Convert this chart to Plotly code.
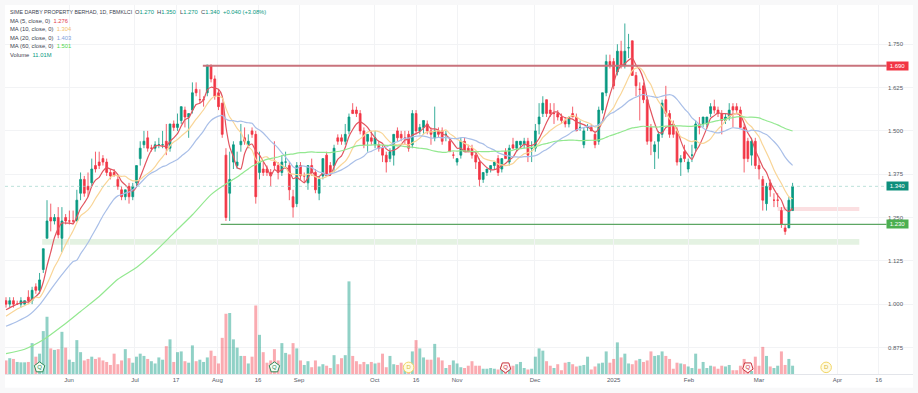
import plotly.graph_objects as go

opens = [
1.01,1.00,1.01,1.00,1.00,1.00,1.02,1.01,1.05,1.04,
1.10,1.19,1.25,1.24,1.25,1.19,1.25,1.24,1.24,1.24,
1.32,1.36,1.34,1.35,1.40,1.41,1.42,1.41,1.38,1.38,
1.36,1.33,1.31,1.34,1.31,1.35,1.42,1.46,1.48,1.45,
1.45,1.46,1.46,1.47,1.45,1.52,1.51,1.53,1.56,1.54,
1.56,1.62,1.59,1.59,1.61,1.69,1.65,1.61,1.58,1.43,
1.32,1.41,1.40,1.46,1.48,1.46,1.50,1.49,1.38,1.39,
1.39,1.38,1.41,1.40,1.38,1.41,1.40,1.31,1.29,1.40,
1.37,1.35,1.40,1.38,1.32,1.37,1.43,1.40,1.40,1.48,
1.48,1.47,1.50,1.56,1.56,1.55,1.50,1.47,1.48,1.46,
1.46,1.45,1.43,1.42,1.43,1.50,1.49,1.48,1.49,1.46,
1.55,1.50,1.51,1.52,1.50,1.48,1.50,1.50,1.49,1.47,
1.43,1.41,1.43,1.47,1.45,1.45,1.43,1.41,1.36,1.38,
1.39,1.40,1.42,1.39,1.44,1.41,1.46,1.45,1.46,1.46,
1.47,1.45,1.45,1.52,1.55,1.59,1.56,1.55,1.55,1.54,
1.53,1.52,1.55,1.54,1.51,1.46,1.51,1.51,1.49,1.47,
1.56,1.61,1.70,1.70,1.67,1.73,1.69,1.74,1.76,1.66,
1.62,1.63,1.59,1.51,1.44,1.47,1.49,1.59,1.55,1.52,
1.50,1.41,1.44,1.39,1.43,1.45,1.52,1.52,1.52,1.55,
1.57,1.56,1.55,1.53,1.54,1.57,1.57,1.56,1.51,1.47,
1.43,1.47,1.40,1.36,1.29,1.35,1.30,1.30,1.27,1.22,
1.22,1.27]
highs = [
1.02,1.02,1.02,1.01,1.02,1.01,1.04,1.05,1.06,1.09,
1.16,1.30,1.29,1.26,1.28,1.28,1.26,1.27,1.27,1.33,
1.38,1.37,1.38,1.42,1.44,1.44,1.43,1.42,1.39,1.39,
1.37,1.34,1.33,1.35,1.35,1.40,1.47,1.50,1.50,1.46,
1.47,1.48,1.50,1.52,1.52,1.53,1.55,1.57,1.57,1.55,
1.64,1.64,1.62,1.60,1.69,1.69,1.66,1.62,1.58,1.45,
1.44,1.47,1.44,1.52,1.51,1.49,1.51,1.50,1.44,1.41,
1.40,1.39,1.47,1.41,1.43,1.44,1.41,1.33,1.41,1.41,
1.38,1.40,1.42,1.39,1.37,1.42,1.44,1.41,1.46,1.49,
1.49,1.52,1.55,1.58,1.57,1.56,1.51,1.49,1.50,1.50,
1.47,1.46,1.44,1.45,1.49,1.51,1.50,1.50,1.50,1.56,
1.56,1.52,1.53,1.53,1.51,1.57,1.51,1.51,1.50,1.48,
1.44,1.42,1.48,1.48,1.46,1.46,1.44,1.42,1.38,1.39,
1.40,1.41,1.43,1.42,1.45,1.46,1.48,1.47,1.47,1.48,
1.48,1.47,1.52,1.58,1.60,1.59,1.58,1.58,1.56,1.55,
1.54,1.54,1.57,1.55,1.53,1.51,1.52,1.52,1.50,1.57,
1.61,1.72,1.72,1.71,1.75,1.76,1.81,1.78,1.76,1.67,
1.64,1.64,1.60,1.52,1.47,1.50,1.59,1.63,1.56,1.53,
1.51,1.43,1.46,1.42,1.46,1.53,1.54,1.54,1.54,1.58,
1.59,1.57,1.56,1.55,1.58,1.58,1.58,1.57,1.52,1.48,
1.48,1.48,1.42,1.37,1.35,1.36,1.32,1.32,1.28,1.23,
1.31,1.35]
lows = [
.99,.99,.99,1.00,.99,1.00,1.00,1.00,1.03,1.03,
1.09,1.19,1.21,1.23,1.19,1.15,1.23,1.23,1.23,1.24,
1.30,1.31,1.31,1.34,1.38,1.39,1.40,1.37,1.36,1.37,
1.33,1.30,1.30,1.29,1.30,1.34,1.40,1.45,1.44,1.44,
1.44,1.45,1.45,1.43,1.44,1.50,1.50,1.52,1.51,1.48,
1.55,1.60,1.58,1.57,1.60,1.64,1.59,1.56,1.48,1.24,
1.24,1.39,1.39,1.44,1.46,1.45,1.48,1.29,1.36,1.37,
1.37,1.34,1.39,1.36,1.37,1.39,1.30,1.25,1.28,1.36,
1.35,1.33,1.37,1.32,1.30,1.36,1.37,1.37,1.38,1.46,
1.46,1.46,1.49,1.55,1.54,1.49,1.45,1.44,1.46,1.45,
1.44,1.41,1.38,1.41,1.40,1.47,1.47,1.46,1.44,1.45,
1.49,1.49,1.49,1.49,1.46,1.47,1.48,1.46,1.47,1.44,
1.42,1.40,1.42,1.44,1.44,1.42,1.39,1.34,1.35,1.37,
1.38,1.39,1.37,1.38,1.42,1.40,1.45,1.44,1.45,1.45,
1.41,1.41,1.44,1.49,1.54,1.54,1.54,1.52,1.53,1.52,
1.51,1.51,1.54,1.50,1.50,1.45,1.50,1.50,1.45,1.46,
1.55,1.60,1.68,1.62,1.66,1.68,1.68,1.71,1.66,1.60,
1.53,1.58,1.46,1.43,1.39,1.42,1.48,1.54,1.48,1.48,
1.40,1.37,1.41,1.38,1.41,1.44,1.49,1.51,1.51,1.54,
1.55,1.54,1.49,1.52,1.53,1.51,1.55,1.51,1.38,1.41,
1.40,1.39,1.36,1.27,1.27,1.31,1.28,1.28,1.22,1.20,
1.22,1.27]
closes = [
1.00,1.01,1.00,1.00,1.01,1.01,1.01,1.04,1.04,1.07,
1.16,1.24,1.24,1.25,1.20,1.24,1.24,1.24,1.24,1.30,
1.36,1.32,1.33,1.39,1.39,1.40,1.41,1.38,1.37,1.37,
1.34,1.31,1.33,1.31,1.34,1.40,1.45,1.47,1.45,1.45,
1.46,1.46,1.46,1.45,1.52,1.51,1.52,1.57,1.54,1.55,
1.61,1.61,1.59,1.59,1.69,1.65,1.60,1.57,1.49,1.25,
1.36,1.46,1.41,1.47,1.47,1.47,1.49,1.31,1.41,1.38,
1.38,1.37,1.40,1.38,1.41,1.41,1.33,1.28,1.40,1.37,
1.37,1.40,1.38,1.33,1.36,1.42,1.37,1.38,1.45,1.47,
1.47,1.49,1.54,1.55,1.55,1.50,1.46,1.49,1.47,1.48,
1.45,1.43,1.41,1.44,1.49,1.48,1.48,1.48,1.45,1.55,
1.50,1.51,1.53,1.50,1.49,1.50,1.49,1.47,1.49,1.44,
1.43,1.42,1.47,1.44,1.44,1.43,1.41,1.36,1.38,1.39,
1.40,1.41,1.38,1.42,1.42,1.45,1.45,1.47,1.47,1.47,
1.43,1.45,1.50,1.54,1.58,1.55,1.55,1.55,1.54,1.53,
1.52,1.54,1.54,1.50,1.51,1.50,1.51,1.50,1.46,1.56,
1.61,1.70,1.69,1.63,1.73,1.69,1.73,1.74,1.66,1.63,
1.62,1.59,1.47,1.47,1.46,1.49,1.58,1.55,1.49,1.49,
1.41,1.42,1.42,1.41,1.43,1.52,1.51,1.54,1.54,1.57,
1.56,1.55,1.53,1.54,1.56,1.56,1.56,1.51,1.42,1.42,
1.47,1.40,1.39,1.30,1.34,1.33,1.30,1.30,1.23,1.21,
1.30,1.34]
volumes_m = [
18,21,20,16,15.5,15.5,16,41,23,27,
57,76,34,32,33,56,35,19,16,45,
29,18,20,23,20,22,18,16,12,27,
13,18,33,21,15,23,27,24,20,17,
14,22,19,37,46,16,29,30,17,15,
38,17,19,16,22,31,24,14,48,80,
81,46,35,24,24,14,23,91,52,29,
15,18,33,18,41,28,26,41,34,18,
12,17,9,18,10,13,11,8,25,13,
21,25,123,24,17,13,16,13,16,14,
15,27,9,24,13,12,15,12,12,30,
45,34,22,19,19,40,22,18,8,12,
18,14,9,8,11,17,11,11,7,7,
8,7,6,10,11,8,11,13,16,8,
6,7,23,34,31,17,11,8,13,5,
15,16,13,10,11,12,23,6,10,14,
15,30,15,20,42,22,27,14,13,18,
20,16,18,30,24,25,30,24,20,7,
15,14,13,10,8,27,7,16,8,11,
10,7,11,10,12,5,5,11,20,12,
4,23,11,36,24,10,8,11,30,12,
20,11.01]

ma5_head_idx = [0, 2]
ma5_head = [0.984, 0.995]
ma10_head_idx = [0, 3, 6, 8]
ma10_head = [0.965, 0.986, 1.001, 1.02]
ma20_head_idx = [0, 3, 6, 9, 12, 15, 18]
ma20_head = [0.936, 0.95, 0.967, 0.998, 1.042, 1.085, 1.123]
ma60_head_idx = [0, 5, 10, 15, 20, 25, 30, 35, 40, 45, 50, 55]
ma60_head = [0.857, 0.870, 0.897, 0.936, 0.979, 1.022, 1.072, 1.106, 1.152, 1.205, 1.258, 1.316]

tick_pos = [16.9, 34.6, 45.6, 56.7, 67.6, 78.6, 98.9, 110, 121, 141.9, 163, 183.2, 202, 223, 234.1]
tick_labels = ["Jun", "Jul", "17", "Aug", "16", "Sep", "Oct", "16", "Nov", "Dec", "2025", "Feb", "Mar", "Apr", "16"]
price_ticks = [0.875, 1.0, 1.125, 1.25, 1.375, 1.5, 1.625, 1.75]

resistance = 1.688
support = 1.23
last_price = 1.34
pink_zone = (1.2688, 1.2803)
green_zone = (1.1713, 1.1877)

q_good = [9, 72]
q_bad = [134, 199]
dividends = [108, 220]

UP = "#089981"
DOWN = "#F23645"
x = list(range(len(closes)))


def rolling(values, n):
    return [sum(values[i - n + 1:i + 1]) / n for i in range(n - 1, len(values))]


def ma_series(n, head_idx, head):
    return head_idx + list(range(n - 1, len(closes))), head + rolling(closes, n)


fig = go.Figure()
fig.add_bar(
    x=x, y=volumes_m, yaxis="y", width=0.8,
    marker=dict(color=["rgba(8,153,129,0.45)" if c >= o else "rgba(242,54,69,0.42)" for o, c in zip(opens, closes)],
                line_width=0),
    hoverinfo="skip",
)
for name, n, hi, hv, col in [
    ("MA5", 5, ma5_head_idx, ma5_head, "#e2545f"),
    ("MA10", 10, ma10_head_idx, ma10_head, "#f9d597"),
    ("MA20", 20, ma20_head_idx, ma20_head, "#a9bfe8"),
    ("MA60", 60, ma60_head_idx, ma60_head, "#93e890"),
]:
    mx, my = ma_series(n, hi, hv)
    fig.add_scatter(x=mx, y=my, yaxis="y2", mode="lines", name=name,
                    line=dict(color=col, width=1.2, shape="spline", smoothing=0.6), hoverinfo="skip")
fig.add_candlestick(
    x=x, open=opens, high=highs, low=lows, close=closes, yaxis="y2",
    increasing=dict(line=dict(color=UP, width=0.8), fillcolor=UP),
    decreasing=dict(line=dict(color=DOWN, width=0.8), fillcolor=DOWN),
    whiskerwidth=0,
)
# event icons
icon_y = [8.8]
fig.add_scatter(x=q_good, y=icon_y * len(q_good), yaxis="y", mode="markers+text", text=["Q"] * len(q_good),
                textfont=dict(size=6, color="#2e8b57", family="Liberation Sans"),
                marker=dict(symbol="pentagon", size=11, color="#f3fbf5", line=dict(color="#2e8b57", width=1)),
                hoverinfo="skip")
fig.add_scatter(x=q_bad, y=icon_y * len(q_bad), yaxis="y", mode="markers+text", text=["Q"] * len(q_bad),
                textfont=dict(size=6, color="#c8323c", family="Liberation Sans"),
                marker=dict(symbol="pentagon", angle=180, size=11, color="#fff5f5", line=dict(color="#c8323c", width=1)),
                hoverinfo="skip")
fig.add_scatter(x=dividends, y=icon_y * len(dividends), yaxis="y", mode="markers+text", text=["D"] * len(dividends),
                textfont=dict(size=6, color="#d9b93a", family="Liberation Sans"),
                marker=dict(symbol="circle", size=10.5, color="#fffbe3", line=dict(color="#f2d665", width=1)),
                hoverinfo="skip")

shapes = [
    dict(type="rect", xref="paper", yref="paper", x0=0, x1=1, y0=-(388 - 374.3) / 369.3, y1=0,
         fillcolor="#ffffff", line_width=0, layer="below"),
    dict(type="rect", xref="x", yref="y2", x0=9.7, x1=228.9, y0=green_zone[0], y1=green_zone[1],
         fillcolor="#e4f2e2", line_width=0, layer="below"),
    dict(type="rect", xref="x", yref="y2", x0=207, x1=228.9, y0=pink_zone[0], y1=pink_zone[1],
         fillcolor="#fbdfe1", line_width=0, layer="below"),
    dict(type="line", xref="x", yref="y2", x0=52.8, x1=236.2, y0=resistance, y1=resistance,
         line=dict(color="#c9737c", width=1.8)),
    dict(type="line", xref="x", yref="y2", x0=57.6, x1=236.2, y0=support, y1=support,
         line=dict(color="#5da663", width=1.2)),
    dict(type="line", xref="paper", yref="y2", x0=0, x1=0.97, y0=last_price, y1=last_price,
         line=dict(color="#9fd4ca", width=0.7, dash="dot")),
]

LEG = "Liberation Sans"
GR = "#089981"
NB = "&nbsp;"


def leg(text, y, px=9, size=5.8):
    return dict(xref="paper", yref="paper", x=(px - 6) / 908, y=1 - (y - 5) / 369.3, xanchor="left", yanchor="middle",
                showarrow=False, align="left", text=text, font=dict(size=size, family=LEG, color="#3d4350"))


def ma_leg(p, val, col):
    return f'MA ({p}, close, 0){NB}{NB}<span style="color:{col}">{val}</span>'


def ohlc(letter, val):
    return f'{letter}<span style="color:{GR}">{val}</span>'


ann = [
    leg("SIME DARBY PROPERTY BERHAD, 1D, FBMKLCI", 12.3, size=5.3),
    leg(ohlc("O", "1.270"), 12.3, px=134),
    leg(ohlc("H", "1.350"), 12.3, px=156),
    leg(ohlc("L", "1.270"), 12.3, px=179),
    leg(ohlc("C", "1.340"), 12.3, px=200),
    leg(f'<span style="color:{GR}">+0.040 (+3.08%)</span>', 12.3, px=222),
    leg(ma_leg(5, "1.276", "#e2404c"), 20.7),
    leg(ma_leg(10, "1.304", "#f5c26b"), 29.3),
    leg(ma_leg(20, "1.403", "#7f9fdc"), 37.7),
    leg(ma_leg(60, "1.501", "#4fd64a"), 46),
    leg(f'Volume{NB}{NB}<span style="color:{GR}">11.01M</span>', 54.7),
]
for val, txt, col in [(resistance, "1.690", "#F23645"), (support, "1.230", "#4caf50"), (last_price, "1.340", "#0e8f7c")]:
    ann.append(dict(xref="paper", yref="y2", x=(897.5 - 5) / 908, y=val, xanchor="center", yanchor="middle",
                    showarrow=False, text=txt, width=21, height=8, bgcolor=col, borderpad=0,
                    font=dict(size=6, family=LEG, color="#ffffff")))

fig.update_layout(
    width=918, height=393, margin=dict(l=5, r=5, t=5, b=18.7, autoexpand=False),
    paper_bgcolor="#f8f8f9", plot_bgcolor="#ffffff", showlegend=False, barmode="overlay",
    shapes=shapes, annotations=ann,
    xaxis=dict(range=[-0.27, 243.3], rangeslider=dict(visible=False), tickmode="array", tickvals=tick_pos,
               ticktext=tick_labels, showgrid=True, gridcolor="#f2f3f5", gridwidth=1, showline=True,
               linecolor="#e3e5ea", linewidth=1, ticks="", tickfont=dict(size=6, family=LEG, color="#555a66"),
               zeroline=False),
    yaxis=dict(range=[0, 490], visible=False, fixedrange=True),
    yaxis2=dict(range=[0.7984, 1.8633], overlaying="y", side="right", tickmode="array", tickvals=price_ticks,
                ticktext=[f"{t:.3f}" for t in price_ticks], ticklabelposition="inside", ticklabelstandoff=7,
                showgrid=True, gridcolor="#f2f3f5", gridwidth=1, zeroline=False, ticks="",
                tickfont=dict(size=6, family=LEG, color="#555a66")),
)
fig.write_html("out.html", config={"displayModeBar": False},
               post_script="document.body.style.margin='0';document.body.style.overflow='hidden';")
